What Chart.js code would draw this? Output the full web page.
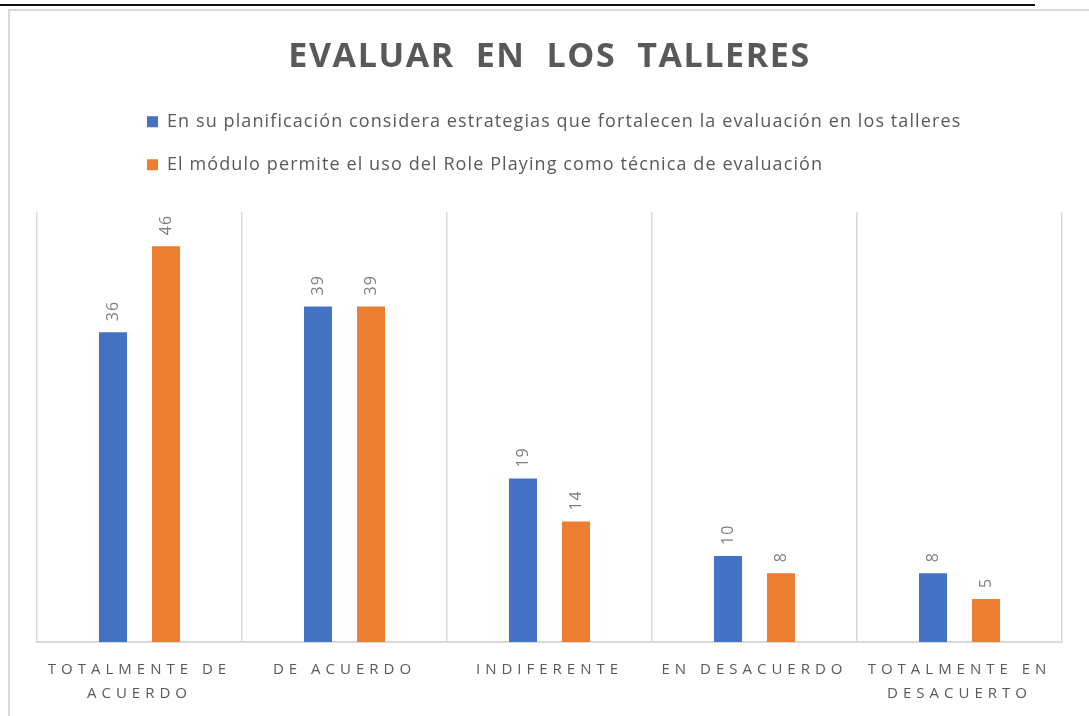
<!DOCTYPE html>
<html><head><meta charset="utf-8">
<script src="https://cdn.jsdelivr.net/npm/chart.js@4.4.1/dist/chart.umd.min.js"></script>
<style>
html,body{margin:0;padding:0;background:#fff;width:1089px;height:716px;overflow:hidden;}
#topline{position:absolute;left:0;top:4px;width:1035px;height:2px;background:#111;}
#frame{position:absolute;left:8px;top:9px;width:1100px;height:720px;border-left:2px solid #d9d9d9;border-top:2px solid #d9d9d9;}
#wrap{position:absolute;left:0;top:0;width:1089px;height:716px;}
</style></head><body>
<div id="topline"></div><div id="frame"></div>
<div id="wrap"><canvas id="c" width="1089" height="716"></canvas></div>
<script>
const chartTitle = 'EVALUAR  EN  LOS  TALLERES';
const categories = [['TOTALMENTE DE', 'ACUERDO'], 'DE ACUERDO', 'INDIFERENTE', 'EN DESACUERDO', ['TOTALMENTE EN', 'DESACUERTO']];
const seriesNames = [
  'En su planificación considera estrategias que fortalecen la evaluación en los talleres',
  'El módulo permite el uso del Role Playing como técnica de evaluación'
];
const planificacion = [36, 39, 19, 10, 8];
const rolePlaying = [46, 39, 14, 8, 5];
const yMin = 0, yMax = 50;

const BLUE = '#4472C4', ORANGE = '#ED7D31', TEXT = '#595959', GRID = '#d9d9d9';

const valueLabels = {
  id: 'valueLabels',
  afterLayout(chart) { if (chart.legend) chart.legend.left = 122; },
  afterDatasetsDraw(chart) {
    const ctx = chart.ctx;
    ctx.save();
    ctx.font = '16px "Open Sans"';
    ctx.fillStyle = '#7f7f7f';
    ctx.textAlign = 'left';
    ctx.textBaseline = 'middle';
    ctx.letterSpacing = '1px';
    chart.data.datasets.forEach((ds, i) => {
      chart.getDatasetMeta(i).data.forEach((bar, j) => {
        ctx.save();
        ctx.translate(bar.x, bar.y - 11);
        ctx.rotate(-Math.PI / 2);
        ctx.fillText(String(ds.data[j]), 0, 0);
        ctx.restore();
      });
    });
    ctx.restore();
  }
};

const chart = new Chart(document.getElementById('c'), {
  type: 'bar',
  data: {
    labels: categories,
    datasets: [
      { label: seriesNames[0], data: planificacion, backgroundColor: BLUE },
      { label: seriesNames[1], data: rolePlaying, backgroundColor: ORANGE }
    ]
  },
  options: {
    responsive: false,
    animation: false,
    devicePixelRatio: 1,
    categoryPercentage: 0.517,
    barPercentage: 0.528,
    layout: { padding: { left: 37, right: 27, top: 0, bottom: -6 } },
    scales: {
      x: {
        grid: { display: true, color: GRID, lineWidth: 1.5, drawTicks: false, offset: true },
        border: { display: true, color: GRID, width: 2 },
        ticks: { color: TEXT, padding: 16, font: { family: '"Open Sans"', size: 15, lineHeight: 1.6 }, maxRotation: 0, autoSkip: false }
      },
      y: { display: false, min: yMin, max: yMax }
    },
    plugins: {
      title: {
        display: true, text: chartTitle, color: TEXT,
        font: { family: '"Open Sans"', size: 34, weight: 'bold', lineHeight: 1.2 },
        padding: { top: 37, bottom: 10 }
      },
      subtitle: {
        display: true, text: '', weight: 500, color: 'rgba(0,0,0,0)',
        font: { size: 10, lineHeight: 1.2 }, padding: { top: 8, bottom: 8 }
      },
      legend: {
        display: true, position: 'top', align: 'start',
        labels: {
          color: TEXT, boxWidth: 11, boxHeight: 11, padding: 25,
          font: { family: '"Open Sans"', size: 18 }
        }
      },
      tooltip: { enabled: false }
    }
  },
  plugins: [valueLabels]
});

function spaced(el, sp) {
  const orig = el.draw;
  el.draw = function (...a) {
    const c = this.ctx;
    const prev = c.letterSpacing;
    c.letterSpacing = sp;
    try { orig.apply(this, a); } finally { c.letterSpacing = prev; }
  };
}
spaced(chart.titleBlock, '1.6px');
spaced(chart.legend, '1.1px');
spaced(chart.scales.x, '5px');
chart.update();
</script>
</body></html>
